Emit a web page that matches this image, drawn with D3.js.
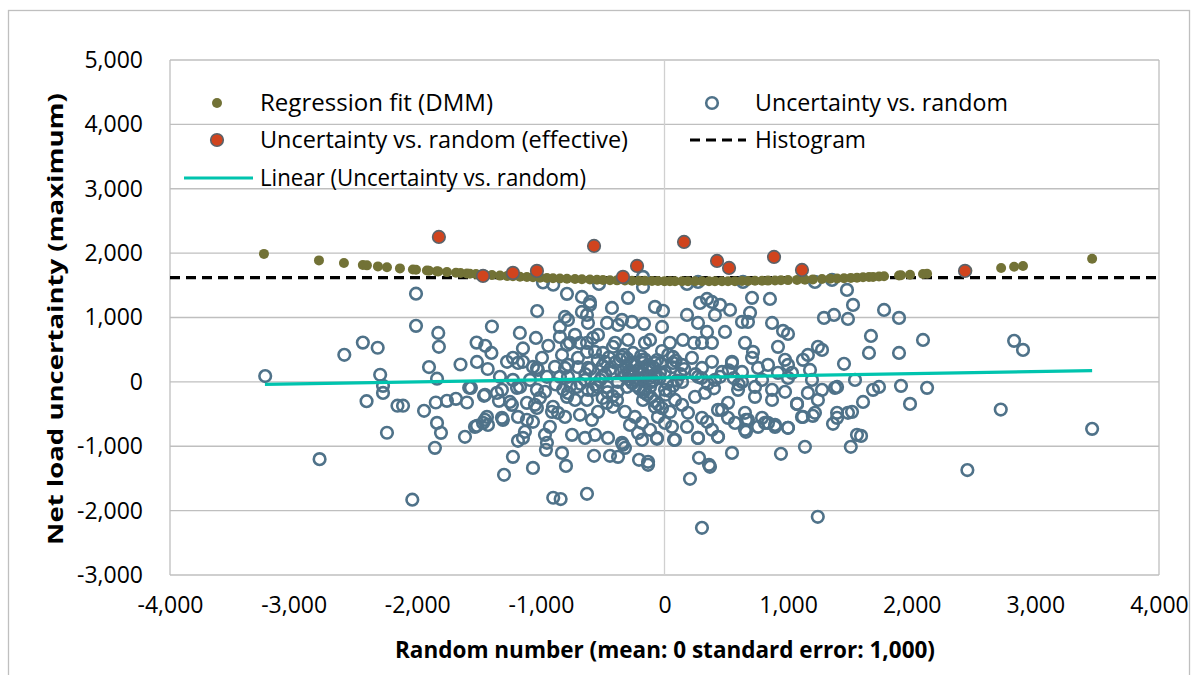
<!DOCTYPE html>
<html><head><meta charset="utf-8">
<script src="https://cdn.jsdelivr.net/npm/d3@7"></script>
<style>
body{margin:0;background:#fff;}
svg text{font-family:"Open Sans","Noto Sans",sans-serif;fill:#000;}
</style></head>
<body><svg id="c" width="1200" height="675"></svg>
<script>
// ---- tick labels / axes ----
const xTicks = [-4000,-3000,-2000,-1000,0,1000,2000,3000,4000];
const yTicks = [-3000,-2000,-1000,0,1000,2000,3000,4000,5000];
const xTitle = "Random number (mean: 0 standard error: 1,000)";
const yTitle = "Net load uncertainty (maximum)";
const seriesNames = ["Regression fit (DMM)","Uncertainty vs. random","Uncertainty vs. random (effective)","Histogram","Linear (Uncertainty vs. random)"];

// ---- Uncertainty vs. random (open circles) ----
const uncX = [-3230,-2590,-2440,-2320,-2300,-2010,-2010,-1830,-1825,-1905,-1840,-1650,-1520,-1450,-1400,-1396,-1517,-1430,-1030,-1170,-1040,-1145,-983,-900,-940,-991,-1032,-789,-668,-603,-530,-295,-174,-174,-77,-12,-1580,-1452,
-2790,-2040,-2245,-2410,-2277,-2277,-2160,-2115,-1945,-1850,-1760,-1687,-1598,-1840,-1808,-1857,-1614,-1566,-1460,-1517,-1452,-1428,-1339,-1226,-1298,-1064,-1315,-1234,-1185,-1129,-1185,-1064,-1048,-967,-959,-900,-1355,-1315,-1193,-967,-910,-927,-951,-1145,-1113,-1307,-1468,-1533,-1436,-1032,
-1274,-1226,-1185,-1145,-1064,-1024,-886,-846,-805,-789,-724,-684,-627,-579,-498,-417,-360,-295,-255,-174,-93,-36,69,-1331,-1226,-1169,-1088,-1032,-951,-1250,-1113,-1007,-902,-789,-708,-627,-579,-465,-384,-303,-198,-117,20,
182,271,635,708,853,1217,1355,1476,1525,1290,1371,1484,1452,1241,1274,1160,1120,1177,1031,975,918,870,959,999,651,716,675,692,627,546,489,530,449,384,344,287,408,182,271,344,384,303,238,149,44,-20,-166,-263,-344,-425,-603,-781,-805,-668,-627,-619,-846,-846,-765,-627,-538,-465,-376,-400,-295,-158,-117,
1776,1897,1670,1654,1897,2091,2828,2900,
-829,-781,-700,-619,-562,-481,-417,-344,-263,-182,-133,-77,4,69,142,222,303,384,465,546,627,708,757,837,918,999,-158,-101,-239,-376,-506,-643,-781,142,271,408,627,789,999,1193,1541,
-781,-724,-619,-546,-465,-417,-320,-279,-214,-182,-174,-158,-77,-53,4,44,85,142,182,247,271,303,384,433,465,514,570,651,675,732,789,837,894,870,975,999,1072,1160,1241,1274,1379,-587,-643,-748,-562,-457,-344,-61,-862,-805,-684,-538,-239,-182,-117,61,190,344,514,433,651,757,4,85,327,595,732,870,1396,1484,1112,1217,
-840,-627,-829,-797,-570,-441,-376,-206,-133,-133,206,303,279,360,368,546,942,1136,1240,1507,-336,-320,-61,77,271,433,659,999,1363,1396,1517,1557,1072,1120,1200,1396,813,894,659,
2450,2720,3459,1986,2124,1913,1606,1590,1687,1735,
-330,-300,-270,-240,-210,-180,-150,-120,-90,-60,-30,-310,-280,-250,-220,-190,-160,-130,-100,-70,-40,-350,-320,-290,-260,-230,-200,-170,-140,-110,-80,-50,-20,10,40,70,100,130,160,-400,-440,-480,-520,-560,-500,-450,-540,-600,-640,-680,-700,-380,-420,-460,-500,250,300,350,400,450,520,560,600,-20,30,60,90,-760,-820,-880];
const uncY = [90,420,610,530,110,1370,870,760,545,230,50,270,610,560,450,860,310,200,1100,760,683,520,1545,1510,560,373,217,1367,1320,1242,1522,1305,1631,1475,1165,1103,-90,-202,
-1200,-1830,-790,-300,-171,-62,-370,-370,-450,-320,-295,-264,-320,-637,-792,-1025,-854,-93,-217,-683,-590,-668,-295,-1165,-1444,-1336,-559,-357,-916,-776,-544,-621,-357,-823,-1056,-1800,-171,-124,-93,-155,-466,-699,-947,-870,-590,-590,-637,-699,-544,-404,
311,373,295,311,233,186,233,78,217,575,730,606,466,683,450,544,342,155,450,295,233,140,295,78,31,-78,31,-124,78,-311,-326,-248,-388,-233,-78,-280,-124,-78,-280,-78,31,-78,-16,
1522,1553,1553,1305,1289,1553,1584,1429,1196,994,1040,978,280,544,497,419,342,186,140,342,544,916,792,745,606,466,932,1072,932,311,776,1118,1196,1242,1289,1227,1040,1040,916,776,606,606,606,652,606,854,901,932,963,1149,1196,963,1009,1087,1040,916,854,699,606,606,730,916,885,606,652,606,652,
1118,994,714,450,450,652,637,497,
419,264,373,217,466,311,155,388,264,342,217,295,155,388,264,373,217,311,155,295,155,373,217,264,140,264,78,0,31,0,78,31,78,0,78,31,0,31,62,31,31,
-171,-280,-124,-78,-326,-388,-466,-668,-792,-901,-280,-124,-388,-544,-637,-466,-901,-357,-699,-233,-870,-559,-745,-854,-435,-326,-637,-745,-590,-233,-559,-637,-699,-280,-155,-714,-342,-171,-280,-124,-93,-590,-870,-823,-823,-870,-947,-870,-481,-544,-512,-466,-544,-637,-745,-699,-481,-621,-559,-435,-481,-699,-124,-280,-171,-124,-78,-124,-559,-481,-544,-481,
-1820,-1739,-1103,-1305,-1149,-1149,-1165,-1211,-1242,-1289,-1506,-2267,-1180,-1289,-1320,-1103,-1118,-1009,-2096,-1009,-978,-1025,-885,-900,-870,-854,-776,-714,-652,-481,-466,-823,-342,-544,-528,-78,-637,-668,-590,
-1370,-430,-730,-342,-93,-62,-311,-839,-124,-78,
420,360,300,250,190,140,90,60,20,340,280,230,170,110,60,400,350,260,180,120,60,150,90,40,-20,-60,-110,-160,-200,-240,-300,-350,-410,-200,-140,-60,20,120,200,300,200,120,30,-40,250,380,340,200,120,-30,230,-150,-220,-160,-250,120,60,-30,-100,80,180,60,-40,480,420,230,330,-60,-120,-40];

// ---- Regression fit (DMM) ----
const fitX = [-3240,-2795,-2593,-2440,-2407,-2318,-2245,-2140,-2035,-2010,-1922,-1905,-1841,-1830,-1760,-1687,-1650,-1598,-1574,-1525,-1452,-1396,-1331,-1274,-1226,-1169,-1113,-1064,-1007,-951,-902,-846,-789,-724,-668,-603,-546,-498,-441,-384,-320,-263,-206,-158,-101,-53,0,44,85,142,190,247,303,360,408,465,514,570,627,675,732,789,837,894,942,999,1072,1136,1200,1274,1340,1396,1452,1507,1557,1606,1654,1687,1735,1776,1897,1913,1986,2091,2124,2450,2723,2828,2900,3459];
const fitY = [1988,1887,1846,1816,1810,1794,1781,1763,1746,1742,1729,1726,1717,1716,1705,1695,1690,1683,1680,1674,1665,1659,1651,1645,1640,1634,1629,1624,1619,1614,1610,1606,1601,1597,1593,1589,1586,1583,1580,1577,1575,1572,1570,1569,1567,1566,1565,1564,1563,1563,1563,1562,1562,1563,1563,1564,1564,1565,1567,1568,1570,1572,1573,1576,1578,1581,1584,1588,1592,1597,1602,1606,1610,1615,1619,1624,1628,1631,1636,1640,1653,1655,1663,1676,1680,1726,1769,1787,1800,1912];

// ---- Uncertainty vs. random (effective) ----
const effX = [-1825,-1468,-1226,-1032,-570,-336,-222,158,425,522,886,1112,2431];
const effY = [2252,1646,1693,1724,2112,1631,1801,2174,1879,1770,1941,1739,1724];

// ---- Histogram (horizontal level) ----
const histX = [-4000,4000];
const histY = [1620,1620];

// ---- Linear trend ----
const trendX = [-3232,3459];
const trendY = [-40,175];

const svg = d3.select("#c");
const M = {l:170, r:1159, t:60, b:575};
const x = d3.scaleLinear().domain([-4000,4000]).range([M.l,M.r]);
const y = d3.scaleLinear().domain([-3000,5000]).range([M.b,M.t]);
const fmt = d => d3.format(",")(d).replace("\u2212","-");
const FS = 23;

svg.append("rect").attr("x",8.5).attr("y",10.5).attr("width",1181).attr("height",700)
  .attr("fill","none").attr("stroke","#BFBFBF").attr("stroke-width",1.3);

svg.append("g").selectAll("line").data(yTicks).join("line")
  .attr("x1",M.l).attr("x2",M.r).attr("y1",d=>y(d)).attr("y2",d=>y(d))
  .attr("stroke","#BFBFBF").attr("stroke-width",1.3);
svg.append("line").attr("x1",M.l).attr("x2",M.l).attr("y1",M.t).attr("y2",M.b).attr("stroke","#BFBFBF").attr("stroke-width",1.3);
svg.append("line").attr("x1",M.r).attr("x2",M.r).attr("y1",M.t).attr("y2",M.b).attr("stroke","#BFBFBF").attr("stroke-width",1.3);
svg.append("line").attr("x1",x(0)).attr("x2",x(0)).attr("y1",M.t).attr("y2",M.b).attr("stroke","#D0D0D0").attr("stroke-width",1.3);

const xAxis = svg.append("g").attr("transform",`translate(0,${M.b})`)
  .call(d3.axisBottom(x).tickValues(xTicks).tickFormat(fmt).tickSize(0).tickPadding(22));
xAxis.select(".domain").remove();
xAxis.selectAll("text").attr("font-size",FS).attr("fill","#000").style("font-family","'Open Sans'");

const yAxis = svg.append("g").attr("transform",`translate(${M.l},0)`)
  .call(d3.axisLeft(y).tickValues(yTicks).tickFormat(fmt).tickSize(0).tickPadding(27));
yAxis.select(".domain").remove();
yAxis.selectAll("text").attr("font-size",FS).attr("fill","#000").style("font-family","'Open Sans'");

function fit(sel, w){ sel.attr("textLength",w).attr("lengthAdjust","spacingAndGlyphs"); return sel; }

fit(svg.append("text").attr("x",665).attr("y",658).attr("text-anchor","middle")
  .attr("font-size",FS).attr("font-weight","bold").text(xTitle), 540);

// y title: scaled along its length instead of textLength
const yt = svg.append("text").attr("text-anchor","middle")
  .attr("font-size",21).attr("font-weight","bold").text(yTitle);
const natural = yt.node().getComputedTextLength();
const sx = natural > 0 ? 452 / natural : 1;
yt.attr("transform",`translate(63,319) rotate(-90) scale(${sx},1)`);

svg.append("line").attr("x1",x(histX[0])).attr("x2",x(histX[1])).attr("y1",y(histY[0])).attr("y2",y(histY[1]))
  .attr("stroke","#000").attr("stroke-width",3.2).attr("stroke-dasharray","10,6");

const pts = uncX.map((d,i)=>({x:d,y:uncY[i]}));
svg.append("g").selectAll("circle").data(pts).join("circle")
  .attr("cx",d=>x(d.x)).attr("cy",d=>y(d.y)).attr("r",5.8)
  .attr("fill","none").attr("stroke","#4F7289").attr("stroke-width",2.6);

const fp = fitX.map((d,i)=>({x:d,y:fitY[i]}));
svg.append("g").selectAll("circle").data(fp).join("circle")
  .attr("cx",d=>x(d.x)).attr("cy",d=>y(d.y)).attr("r",5).attr("fill","#727236");

svg.append("line").attr("x1",x(trendX[0])).attr("y1",y(trendY[0])).attr("x2",x(trendX[1])).attr("y2",y(trendY[1]))
  .attr("stroke","#00C4AE").attr("stroke-width",3.2);

const ep = effX.map((d,i)=>({x:d,y:effY[i]}));
svg.append("g").selectAll("circle").data(ep).join("circle")
  .attr("cx",d=>x(d.x)).attr("cy",d=>y(d.y)).attr("r",6.3)
  .attr("fill","#D0441E").attr("stroke","#59636B").attr("stroke-width",1.6);

const lg = svg.append("g");
lg.append("circle").attr("cx",217).attr("cy",103).attr("r",5).attr("fill","#727236");
fit(lg.append("text").attr("x",260).attr("y",111).attr("font-size",FS).text(seriesNames[0]), 233);
lg.append("circle").attr("cx",712).attr("cy",103).attr("r",5.8).attr("fill","none").attr("stroke","#4F7289").attr("stroke-width",2.6);
fit(lg.append("text").attr("x",755).attr("y",111).attr("font-size",FS).text(seriesNames[1]), 253);
lg.append("circle").attr("cx",217).attr("cy",140).attr("r",6.3).attr("fill","#D0441E").attr("stroke","#59636B").attr("stroke-width",1.6);
fit(lg.append("text").attr("x",260).attr("y",148).attr("font-size",FS).text(seriesNames[2]), 368);
lg.append("line").attr("x1",690).attr("x2",746).attr("y1",140).attr("y2",140).attr("stroke","#000").attr("stroke-width",3.2).attr("stroke-dasharray","10,6");
fit(lg.append("text").attr("x",755).attr("y",148).attr("font-size",FS).text(seriesNames[3]), 111);
lg.append("line").attr("x1",184).attr("x2",253).attr("y1",178).attr("y2",178).attr("stroke","#00C4AE").attr("stroke-width",3.2);
fit(lg.append("text").attr("x",260).attr("y",186).attr("font-size",FS).text(seriesNames[4]), 326);
</script></body></html>
